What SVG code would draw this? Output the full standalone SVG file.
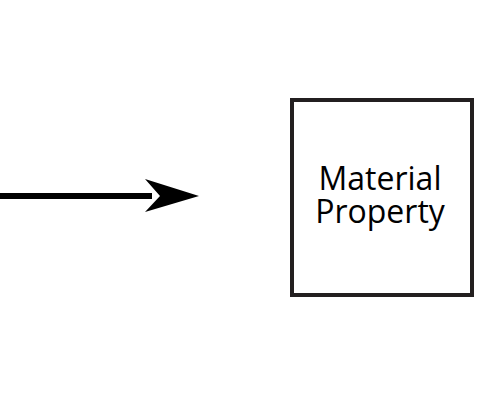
<svg xmlns="http://www.w3.org/2000/svg" width="500" height="400" viewBox="0 0 500 400">
<style>
.box{fill:#fff;stroke:#231f20;stroke-width:4}
.lbl{font-family:"Open Sans","Noto Sans",sans-serif;font-size:32px;fill:#000;text-anchor:middle}
.conn{stroke:#000;stroke-width:6;fill:none}
</style>
<rect width="500" height="400" fill="#fff"/>
<g id="connectors">
<line class="conn" x1="0" y1="196" x2="152" y2="196"/>
<polygon points="145,179 199,196 145,212 160,196" fill="#000"/>
</g>
<g id="node-material-property">
<rect class="box" x="292" y="100" width="180" height="195"/>
<text class="lbl" x="380" y="190">Material</text>
<text class="lbl" x="380" y="223">Property</text>
</g>
</svg>
